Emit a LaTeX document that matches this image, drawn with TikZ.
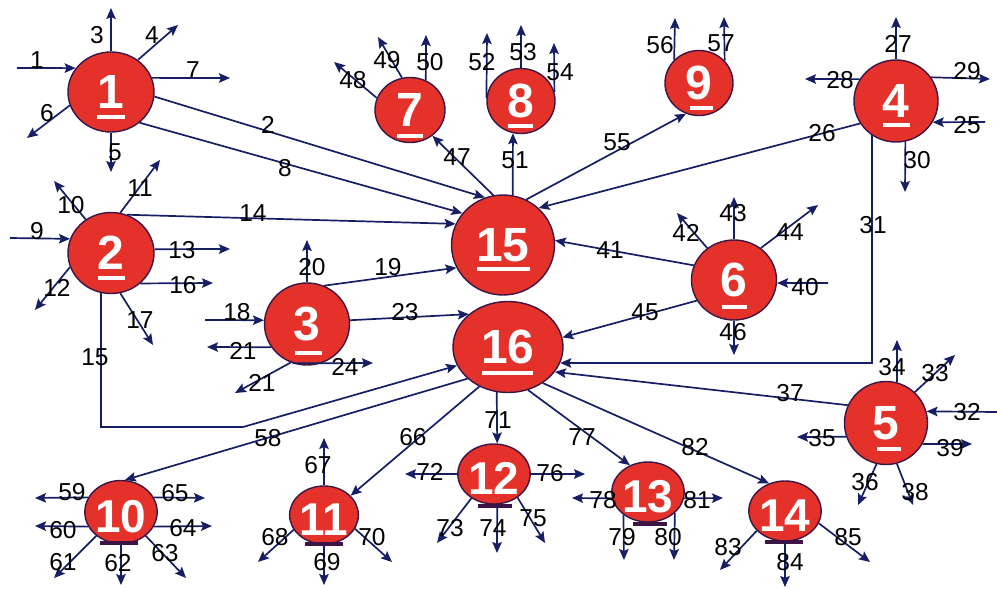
\documentclass[tikz,border=0pt]{standalone}
\usepackage{fontspec}
\usetikzlibrary{shapes.geometric,arrows.meta}
\newfontfamily\lib{Liberation Sans}
\newcommand\numfont{\lib\bfseries\fontsize{48}{48}\selectfont}
\newcommand\numfontb{\lib\bfseries\fontsize{46}{46}\selectfont}
\newcommand\lblfont{\lib\fontsize{24.5}{24.5}\selectfont}
\definecolor{bubred}{RGB}{228,50,42}
\definecolor{bubedge}{RGB}{60,20,70}
\definecolor{linenavy}{RGB}{22,30,100}
\tikzset{
 bub/.style={ellipse, fill=bubred, draw=bubedge, line width=1.4pt, inner sep=0pt, text=white, font=\numfont},
 bubs/.style={bub, font=\numfontb, text height=41pt, text depth=0pt},
 arr/.style={draw=linenavy, line width=1.7pt, -{Stealth[length=11pt,width=9.5pt,inset=2pt]}},
 lbl/.style={inner sep=0pt, font=\lblfont, text=black},
 ulw/.style={white, line width=3.5pt},
 uld/.style={bubedge, line width=3.5pt},
}
\begin{document}
\begin{tikzpicture}[x=1pt,y=-1pt]
\useasboundingbox (0,0) rectangle (997,589);
% bubbles
\node[bub, minimum width=86pt, minimum height=80pt] (n1) at (111,92) {1};
\node[bub, minimum width=86pt, minimum height=81pt] (n2) at (111,253) {2};
\node[bub, minimum width=85pt, minimum height=82pt] (n3) at (307,324) {3};
\node[bub, minimum width=84pt, minimum height=82pt] (n4) at (896,101) {4};
\node[bub, minimum width=83pt, minimum height=83pt] (n5) at (886,423) {5};
\node[bub, minimum width=85pt, minimum height=80pt] (n6) at (734,280) {6};
\node[bub, minimum width=70pt, minimum height=65pt] (n7) at (410,110) {7};
\node[bub, minimum width=68pt, minimum height=65pt] (n8) at (521,101) {8};
\node[bub, minimum width=68pt, minimum height=65pt] (n9) at (699,83) {9};
\node[bub, minimum width=103pt, minimum height=100pt] (n15) at (503,245) {15};
\node[bub, minimum width=110pt, minimum height=91pt] (n16) at (508,347) {16};
\node[bubs, minimum width=68pt, minimum height=63pt] (n10) at (121,512) {10};
\node[bubs, minimum width=68pt, minimum height=58pt] (n11) at (324,515) {11};
\node[bubs, minimum width=68pt, minimum height=60pt] (n12) at (494,474) {12};
\node[bubs, minimum width=67pt, minimum height=60pt] (n13) at (648,492) {13};
\node[bubs, minimum width=66pt, minimum height=60pt] (n14) at (785,511) {14};
% underlines
\draw[ulw] (97,117) -- (125,117);
\draw[ulw] (98,278) -- (125,278);
\draw[ulw] (295,353) -- (322,353);
\draw[ulw] (883,125) -- (910,125);
\draw[ulw] (877,449) -- (901,449);
\draw[ulw] (722,307) -- (747,307);
\draw[ulw] (397,136) -- (423,136);
\draw[ulw] (508,126) -- (533,126);
\draw[ulw] (690,108) -- (713,108);
\draw[ulw] (477,269) -- (530,269);
\draw[ulw] (482,373) -- (533,373);
\draw[uld] (100,543) -- (138,543);
\draw[uld] (305,544) -- (343,544);
\draw[uld] (478,506) -- (512,506);
\draw[uld] (633,524) -- (667,524);
\draw[uld] (765,542) -- (803,542);
% node 1
\coordinate (s1) at (17,68); \draw[arr] (s1) -- (n1.146); \node[lbl] (l1) at (37,60) {1};
\coordinate (e3) at (111,8); \draw[arr] (n1.north) -- (e3); \node[lbl] (l3) at (97,35) {3};
\coordinate (e4) at (178,25); \draw[arr] (n1.50) -- (e4); \node[lbl] (l4) at (152,35) {4};
\coordinate (e7) at (230,78); \draw[arr] (n1.19) -- (e7); \node[lbl] (l7) at (193,70) {7};
\coordinate (e6) at (27,138); \draw[arr] (n1.198) -- (e6); \node[lbl] (l6) at (47,113) {6};
\coordinate (e5) at (111,172); \draw[arr] (n1.south) -- (e5); \node[lbl] (l5) at (115,152) {5};
\draw[arr] (n1.354) -- (n15.111); \node[lbl] (l2) at (268,125) {2};
\draw[arr] (n1.313) -- (n15.142); \node[lbl] (l8) at (285,168) {8};
% node 2
\coordinate (s9) at (10,238); \draw[arr] (s9) -- (n2.161); \node[lbl] (l9) at (37,231) {9};
\coordinate (e10) at (54,181); \draw[arr] (n2.127) -- (e10); \node[lbl] (l10) at (71,205) {10};
\coordinate (e11) at (160,160); \draw[arr] (n2.77) -- (e11); \node[lbl] (l11) at (140,188) {11};
\draw[arr] (n2.67) -- (n15.156); \node[lbl] (l14) at (253,213) {14};
\coordinate (e13) at (230,249); \draw[arr] (n2.5) -- (e13); \node[lbl] (l13) at (182,250) {13};
\coordinate (e16) at (213,283); \draw[arr] (n2.314) -- (e16); \node[lbl] (l16) at (183,285) {16};
\coordinate (e12) at (35,310); \draw[arr] (n2.199) -- (e12); \node[lbl] (l12) at (57,288) {12};
\coordinate (e17) at (153,345); \draw[arr] (n2.283) -- (e17); \node[lbl] (l17) at (140,320) {17};
\coordinate (b15) at (243,427); \draw[arr] (n2.256) |- (b15) -- (n16.200); \node[lbl] (l15) at (95,357) {15};
% node 3
\coordinate (e20) at (307,240); \draw[arr] (n3.north) -- (e20); \node[lbl] (l20) at (312,267) {20};
\draw[arr] (n3.66) -- (n15.206); \node[lbl] (l19) at (388,267) {19};
\coordinate (s18) at (205,320); \draw[arr] (s18) -- (n3.175); \node[lbl] (l18) at (237,312) {18};
\coordinate (e21) at (207,347); \draw[arr] (n3.213) -- (e21); \node[lbl] (l21) at (243,351) {21};
\coordinate (e21b) at (235,393); \draw[arr] (n3.247) -- (e21b); \node[lbl] (l21b) at (262,383) {21};
\coordinate (e24) at (373,363); \draw[arr] (n3.250) -- (e24); \node[lbl] (l24) at (345,367) {24};
\draw[arr] (n3.5) -- (n16.140); \node[lbl] (l23) at (405,312) {23};
% node 4
\coordinate (e27) at (896,17); \draw[arr] (n4.north) -- (e27); \node[lbl] (l27) at (898,44) {27};
\coordinate (e28) at (805,79); \draw[arr] (n4.149) -- (e28); \node[lbl] (l28) at (840,80) {28};
\coordinate (e29) at (990,79); \draw[arr] (n4.34) -- (e29); \node[lbl] (l29) at (967,71) {29};
\coordinate (s25) at (985,122); \draw[arr] (s25) -- (n4.330); \node[lbl] (l25) at (967,125) {25};
\coordinate (e30) at (905,192); \draw[arr] (n4.283) -- (e30); \node[lbl] (l30) at (917,160) {30};
\draw[arr] (n4.212) -- (n15.46); \node[lbl] (l26) at (822,133) {26};
\draw[arr] (n4.235) |- (n16.343); \node[lbl] (l31) at (873,225) {31};
% node 5
\coordinate (e34) at (897,340); \draw[arr] (n5.75) -- (e34); \node[lbl] (l34) at (892,367) {34};
\coordinate (e33) at (955,355); \draw[arr] (n5.47) -- (e33); \node[lbl] (l33) at (935,373) {33};
\coordinate (s32) at (997,412); \draw[arr] (s32) -- (n5.16); \node[lbl] (l32) at (967,412) {32};
\coordinate (e39) at (972,444); \draw[arr] (n5.330) -- (e39); \node[lbl] (l39) at (950,448) {39};
\coordinate (e35) at (797,437); \draw[arr] (n5.199) -- (e35); \node[lbl] (l35) at (822,438) {35};
\coordinate (e36) at (858,505); \draw[arr] (n5.257) -- (e36); \node[lbl] (l36) at (865,482) {36};
\coordinate (e38) at (913,505); \draw[arr] (n5.285) -- (e38); \node[lbl] (l38) at (915,492) {38};
\draw[arr] (n5.155) -- (n16.332); \node[lbl] (l37) at (790,393) {37};
% node 6
\coordinate (e43) at (734,197); \draw[arr] (n6.north) -- (e43); \node[lbl] (l43) at (733,213) {43};
\coordinate (e42) at (677,213); \draw[arr] (n6.130) -- (e42); \node[lbl] (l42) at (686,233) {42};
\coordinate (e44) at (818,205); \draw[arr] (n6.50) -- (e44); \node[lbl] (l44) at (790,232) {44};
\coordinate (s40) at (828,283); \draw[arr] (s40) -- (n6.356); \node[lbl] (l40) at (805,287) {40};
\coordinate (e46) at (734,355); \draw[arr] (n6.south) -- (e46); \node[lbl] (l46) at (733,332) {46};
\draw[arr] (n6.160) -- (n15.5); \node[lbl] (l41) at (610,250) {41};
\draw[arr] (n6.209) -- (n16.10); \node[lbl] (l45) at (645,312) {45};
% node 7
\coordinate (e48) at (334,62); \draw[arr] (n7.160) -- (e48); \node[lbl] (l48) at (353,80) {48};
\coordinate (e49) at (378,37); \draw[arr] (n7.104) -- (e49); \node[lbl] (l49) at (387,60) {49};
\coordinate (e50) at (426,35); \draw[arr] (n7.62) -- (e50); \node[lbl] (l50) at (430,62) {50};
\draw[arr] (n15.101) -- (n7.311); \node[lbl] (l47) at (457,157) {47};
% node 8
\coordinate (e52) at (487,33); \draw[arr] (n8.175) -- (e52); \node[lbl] (l52) at (482,62) {52};
\coordinate (e53) at (521,25); \draw[arr] (n8.north) -- (e53); \node[lbl] (l53) at (523,52) {53};
\coordinate (e54) at (554,43); \draw[arr] (n8.15) -- (e54); \node[lbl] (l54) at (560,72) {54};
\draw[arr] (n15.79) -- (n8.256); \node[lbl] (l51) at (515,160) {51};
% node 9
\coordinate (e56) at (675,18); \draw[arr] (n9.137) -- (e56); \node[lbl] (l56) at (660,45) {56};
\coordinate (e57) at (724,17); \draw[arr] (n9.41) -- (e57); \node[lbl] (l57) at (721,43) {57};
\draw[arr] (n15.63) -- (n9.247); \node[lbl] (l55) at (617,142) {55};
% node 16 outgoing
\draw[arr] (n16.218) -- (n10.83); \node[lbl] (l58) at (268,438) {58};
\draw[arr] (n16.234) -- (n11.36); \node[lbl] (l66) at (413,437) {66};
\draw[arr] (n16.256) -- (n12.84); \node[lbl] (l71) at (498,420) {71};
\draw[arr] (n16.295) -- (n13.124); \node[lbl] (l77) at (582,437) {77};
\draw[arr] (n16.314) -- (n14.120); \node[lbl] (l82) at (695,447) {82};
% node 10
\coordinate (e59) at (35,498); \draw[arr] (n10.156) -- (e59); \node[lbl] (l59) at (72,492) {59};
\coordinate (e65) at (205,498); \draw[arr] (n10.24) -- (e65); \node[lbl] (l65) at (175,493) {65};
\coordinate (e60) at (35,526); \draw[arr] (n10.204) -- (e60); \node[lbl] (l60) at (63,530) {60};
\coordinate (e64) at (212,526); \draw[arr] (n10.336) -- (e64); \node[lbl] (l64) at (183,528) {64};
\coordinate (e61) at (54,578); \draw[arr] (n10.224) -- (e61); \node[lbl] (l61) at (63,562) {61};
\coordinate (e62) at (121,585); \draw[arr] (n10.south) -- (e62); \node[lbl] (l62) at (118,563) {62};
\coordinate (e63) at (186,578); \draw[arr] (n10.316) -- (e63); \node[lbl] (l63) at (165,553) {63};
% node 11
\coordinate (e67) at (324,438); \draw[arr] (n11.north) -- (e67); \node[lbl] (l67) at (318,465) {67};
\coordinate (e68) at (258,562); \draw[arr] (n11.206) -- (e68); \node[lbl] (l68) at (275,537) {68};
\coordinate (e69) at (324,585); \draw[arr] (n11.south) -- (e69); \node[lbl] (l69) at (327,562) {69};
\coordinate (e70) at (392,562); \draw[arr] (n11.336) -- (e70); \node[lbl] (l70) at (372,537) {70};
% node 12
\coordinate (e72) at (405,474); \draw[arr] (n12.west) -- (e72); \node[lbl] (l72) at (430,472) {72};
\coordinate (e76) at (585,474); \draw[arr] (n12.east) -- (e76); \node[lbl] (l76) at (550,473) {76};
\coordinate (e73) at (437,543); \draw[arr] (n12.227) -- (e73); \node[lbl] (l73) at (450,528) {73};
\coordinate (e74) at (497,553); \draw[arr] (n12.276) -- (e74); \node[lbl] (l74) at (493,528) {74};
\coordinate (e75) at (545,543); \draw[arr] (n12.315) -- (e75); \node[lbl] (l75) at (533,518) {75};
% node 13
\coordinate (e78) at (572,498); \draw[arr] (n13.190) -- (e78); \node[lbl] (l78) at (603,500) {78};
\coordinate (e81) at (723,498); \draw[arr] (n13.350) -- (e81); \node[lbl] (l81) at (697,500) {81};
\coordinate (e79) at (624,560); \draw[arr] (n13.223) -- (e79); \node[lbl] (l79) at (622,537) {79};
\coordinate (e80) at (674,560); \draw[arr] (n13.322) -- (e80); \node[lbl] (l80) at (668,537) {80};
% node 14
\coordinate (e83) at (720,570); \draw[arr] (n14.215) -- (e83); \node[lbl] (l83) at (728,547) {83};
\coordinate (e84) at (785,587); \draw[arr] (n14.south) -- (e84); \node[lbl] (l84) at (790,562) {84};
\coordinate (e85) at (870,562); \draw[arr] (n14.340) -- (e85); \node[lbl] (l85) at (848,537) {85};
\end{tikzpicture}
\end{document}
